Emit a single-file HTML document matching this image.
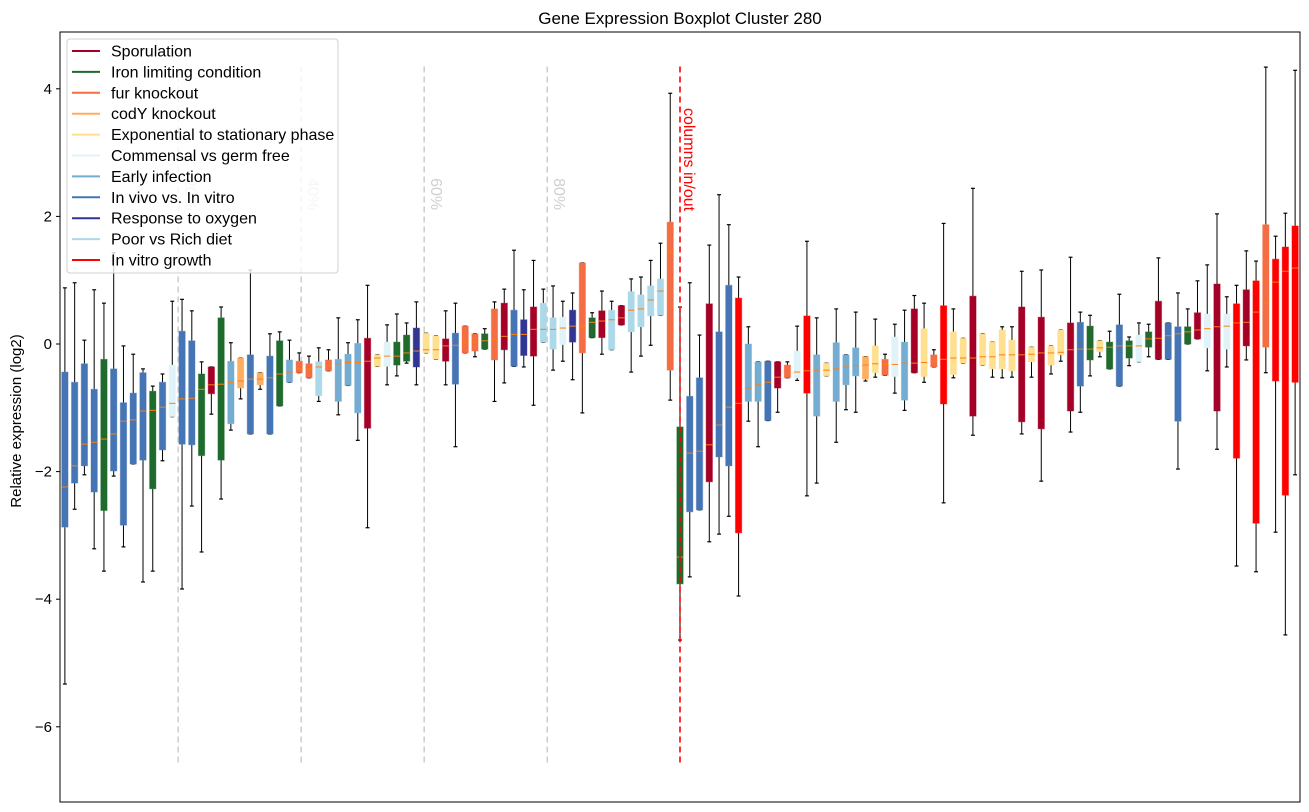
<!DOCTYPE html>
<html><head><meta charset="utf-8">
<style>
body{margin:0;background:#fff;}
svg{display:block;font-family:"Liberation Sans","DejaVu Sans",sans-serif;}
</style></head>
<body>
<svg id="chart" width="1309" height="812" viewBox="0 0 1309 812" xmlns="http://www.w3.org/2000/svg">
<rect x="0" y="0" width="1309" height="812" fill="#fff"/>
<text x="680" y="24" font-size="17" text-anchor="middle" fill="#000">Gene Expression Boxplot Cluster 280</text>
<text transform="translate(21,421) rotate(-90)" font-size="15" text-anchor="middle" fill="#000">Relative expression (log2)</text>
<g id="refs"></g>
<g id="boxes"></g>
<g id="overlay"></g>
<g id="axes"></g>
<g id="legend"></g>
</svg>
<script>
const groups = ['S','I','F','C','E','M','A','V','O','P','R'];
const groupNames = ['Sporulation','Iron limiting condition','fur knockout','codY knockout','Exponential to stationary phase','Commensal vs germ free','Early infection','In vivo vs. In vitro','Response to oxygen','Poor vs Rich diet','In vitro growth'];
const groupColors = ['#a50026','#1f6a2c','#f46d43','#fdae61','#fee090','#e0f3f8','#74add1','#4575b4','#313695','#abd9e9','#ff0000'];
const boxGroup = ("VVVVIVVVVIVMVVISIACVCVIAFFPFAAASEMIIOEESVFFIFSVOSPPMOFISPSPPPPF"+"IVVSVVRAAV"+"SFMRAEAAAC"+"EFMASEFREE"+"SEEEESESEE"+"SVIEIVIMIS"+"VVISMSMRSR"+"FRRR").split('');
const whiskerLow = [-5.33,-2.59,-2.05,-3.21,-3.56,-2.07,-3.18,-1.88,-3.73,-3.56,-1.83,-1.14,-3.84,-2.54,-3.26,-1.1,-2.43,-1.35,-0.86,-1.41,-0.71,-1.41,-0.97,-0.6,-0.45,-0.53,-0.9,-0.42,-1.11,-0.65,-1.51,-2.88,-0.35,-0.64,-0.5,-0.3,-0.64,-0.14,-0.24,-0.64,-1.61,-0.14,-0.2,-0.08,-0.9,-0.61,-0.35,-0.36,-0.96,0.03,-0.41,-0.27,-0.56,-1.08,0.1,-0.16,-0.09,0.3,-0.44,-0.19,-0.02,0.45,-0.88,
-4.64,-3.65,-2.6,-3.1,-2.98,-2.7,-3.95,-1.21,-1.61,-1.2,-1.07,-0.53,-0.57,-2.38,-2.18,-0.5,-1.54,-1.03,-1.07,-0.58,-0.52,-0.49,-0.77,-1.04,-0.45,-0.6,-0.36,-2.49,-0.53,-0.3,-1.43,-0.33,-0.52,-0.53,-0.52,-1.41,-0.52,-2.15,-0.47,-0.27,-1.38,-1.07,-0.5,-0.2,-0.39,-0.66,-0.34,-0.28,-0.2,-0.24,-0.24,-1.96,0.0,0.08,-0.42,-1.65,-0.36,-3.48,-0.25,-3.57,-0.45,-2.95,-4.56,-2.05];
const q1 = [-2.87,-2.18,-1.91,-2.32,-2.61,-1.99,-2.84,-1.88,-1.82,-2.27,-1.66,-1.14,-1.57,-1.58,-1.75,-0.78,-1.82,-1.25,-0.69,-1.41,-0.64,-1.41,-0.97,-0.6,-0.45,-0.53,-0.81,-0.42,-0.9,-0.65,-1.08,-1.32,-0.35,-0.35,-0.33,-0.27,-0.36,-0.14,-0.24,-0.27,-0.63,-0.14,-0.11,-0.08,-0.25,-0.09,-0.35,-0.18,-0.19,0.03,-0.08,-0.01,0.03,-0.14,0.1,0.1,-0.09,0.3,0.19,0.27,0.44,0.45,-0.41,
-3.76,-2.63,-2.6,-2.16,-1.77,-1.91,-2.96,-0.9,-0.9,-1.2,-0.69,-0.53,-0.53,-0.77,-1.13,-0.5,-0.9,-0.64,-0.5,-0.55,-0.45,-0.49,-0.51,-0.88,-0.45,-0.51,-0.36,-0.94,-0.48,-0.3,-1.13,-0.33,-0.39,-0.39,-0.42,-1.22,-0.28,-1.33,-0.33,-0.17,-1.05,-0.66,-0.25,-0.12,-0.39,-0.66,-0.22,-0.28,-0.05,-0.24,-0.24,-1.21,0.0,0.08,-0.06,-1.05,-0.08,-1.79,-0.03,-2.81,-0.05,-0.58,-2.37,-0.6];
const medians = [-2.24,-1.91,-1.57,-1.54,-1.49,-1.41,-1.21,-1.19,-1.05,-1.04,-0.99,-0.93,-0.86,-0.85,-0.71,-0.64,-0.63,-0.6,-0.58,-0.55,-0.55,-0.53,-0.47,-0.44,-0.39,-0.39,-0.36,-0.34,-0.31,-0.29,-0.29,-0.27,-0.22,-0.19,-0.19,-0.14,-0.11,-0.09,-0.09,-0.03,-0.02,0.02,0.03,0.05,0.06,0.12,0.15,0.15,0.23,0.23,0.23,0.25,0.28,0.28,0.34,0.36,0.38,0.41,0.53,0.55,0.69,0.83,1.44,
-3.34,-1.71,-1.68,-1.58,-1.27,-0.99,-0.93,-0.69,-0.64,-0.6,-0.52,-0.46,-0.44,-0.42,-0.41,-0.41,-0.39,-0.36,-0.34,-0.33,-0.31,-0.32,-0.32,-0.3,-0.3,-0.29,-0.27,-0.24,-0.22,-0.22,-0.22,-0.2,-0.2,-0.17,-0.17,-0.17,-0.16,-0.14,-0.14,-0.13,-0.09,-0.08,-0.08,-0.06,-0.05,-0.03,-0.03,-0.03,0.08,0.09,0.13,0.16,0.19,0.22,0.24,0.27,0.28,0.33,0.34,0.5,0.64,0.97,1.14,1.19];
const q3 = [-0.44,-0.6,-0.31,-0.71,-0.24,-0.39,-0.92,-0.77,-0.45,-0.74,-0.6,-0.33,0.2,0.05,-0.47,-0.36,0.41,-0.27,-0.22,-0.17,-0.45,-0.19,0.05,-0.25,-0.27,-0.31,-0.28,-0.25,-0.24,-0.16,0.01,0.09,-0.17,0.03,0.03,0.14,0.25,0.17,0.13,0.08,0.17,0.28,0.16,0.16,0.55,0.64,0.53,0.38,0.58,0.64,0.41,0.42,0.53,1.27,0.41,0.52,0.53,0.6,0.82,0.77,0.91,1.02,1.91,
-1.3,-0.82,-0.53,0.63,0.19,0.92,0.72,0.0,-0.28,-0.27,-0.28,-0.33,-0.11,0.44,-0.17,-0.3,0.02,-0.17,-0.06,-0.2,-0.03,-0.24,0.11,0.03,0.55,0.24,-0.17,0.6,0.19,0.09,0.75,0.16,0.03,0.22,0.06,0.58,-0.05,0.42,-0.03,0.22,0.33,0.34,0.28,0.05,0.03,0.3,0.05,0.14,0.19,0.67,0.33,0.27,0.27,0.49,0.47,0.94,0.47,0.63,0.85,0.99,1.87,1.33,1.52,1.85];
const whiskerHigh = [0.88,0.96,0.06,0.85,0.64,1.43,-0.03,-0.16,-0.39,-0.66,-0.47,0.67,0.7,0.52,-0.28,-0.36,0.58,0.02,-0.22,1.16,-0.45,0.16,0.19,0.06,-0.14,-0.19,-0.06,-0.09,0.41,0.02,0.38,0.92,-0.17,0.3,0.47,0.33,0.66,0.17,0.13,0.52,0.64,0.28,0.16,0.24,0.66,0.86,1.47,0.85,1.31,0.86,0.91,0.67,0.8,1.27,0.49,0.83,0.67,0.6,1.02,1.05,1.31,1.58,3.93,
0.58,0.96,0.14,1.55,2.34,1.87,1.05,0.27,-0.28,-0.27,-0.28,-0.28,0.28,1.61,0.41,-0.3,0.55,-0.17,0.5,-0.2,0.39,-0.16,0.31,0.53,0.76,0.64,-0.09,1.89,0.55,0.09,2.44,0.16,0.03,0.27,0.27,1.14,-0.05,1.16,-0.03,0.22,1.36,0.5,0.45,0.05,0.2,0.78,0.11,0.33,0.31,1.35,0.33,0.8,0.55,0.99,1.24,2.04,0.74,0.92,1.46,1.3,4.34,1.69,2.05,4.29];
const yTicks = [4,2,0,-2,-4,-6];
const refLines = [12.6,25.2,37.8,50.4];
const refLabels = ['20%','40%','60%','80%'];
const splitLine = 64;

const NS='http://www.w3.org/2000/svg';
const L=60,R=1300,T=32,B=802;
const N=medians.length;
const xScale=d=>L+(d-0.5)*(R-L)/N;
const yScale=v=>344-63.8*v;
function mk(tag,attrs,parent){const e=document.createElementNS(NS,tag);for(const k in attrs)e.setAttribute(k,attrs[k]);parent.appendChild(e);return e;}
const gRefs=document.getElementById('refs'),gBoxes=document.getElementById('boxes'),gOv=document.getElementById('overlay'),gAx=document.getElementById('axes'),gLeg=document.getElementById('legend');
const unit=(R-L)/N;
const top_=yScale(4.35),bot_=yScale(-6.6);
refLines.forEach((d,i)=>{
  const x=xScale(d);
  const ln=mk('line',{x1:x,x2:x,y1:top_,y2:bot_,stroke:'#cccccc','stroke-width':1.5,'stroke-dasharray':'6,4'},gRefs);
  
  
  const t=mk('text',{transform:`translate(${x+7},${yScale(2.6)}) rotate(90)`,'font-size':16,fill:'#d0d0d0'},gRefs);
  t.textContent=refLabels[i];
  
  
});
for(let i=0;i<N;i++){
  const x=xScale(i+1),col=groupColors[groups.indexOf(boxGroup[i])]||'#4575b4';
  const g=mk('g',{},gBoxes);
  
  
  const hw=0.325*unit,cw=0.2*unit;
  mk('line',{x1:x,x2:x,y1:yScale(whiskerHigh[i]),y2:yScale(q3[i]),stroke:'#000','stroke-width':1},g);
  mk('line',{x1:x,x2:x,y1:yScale(q1[i]),y2:yScale(whiskerLow[i]),stroke:'#000','stroke-width':1},g);
  mk('line',{x1:x-cw,x2:x+cw,y1:yScale(whiskerHigh[i]),y2:yScale(whiskerHigh[i]),stroke:'#000','stroke-width':1.2},g);
  mk('line',{x1:x-cw,x2:x+cw,y1:yScale(whiskerLow[i]),y2:yScale(whiskerLow[i]),stroke:'#000','stroke-width':1.2},g);
  const y1=yScale(q3[i]),y2=yScale(q1[i]);
  mk('rect',{x:x-hw,y:y1,width:2*hw,height:Math.max(1,y2-y1),fill:col,stroke:col,'stroke-opacity':0.4,'stroke-width':1},g);
  mk('line',{x1:x-hw,x2:x+hw,y1:yScale(medians[i]),y2:yScale(medians[i]),stroke:'#ff7f0e','stroke-width':1},g);
}
const sx=xScale(splitLine);
const sl=mk('line',{x1:sx,x2:sx,y1:top_,y2:bot_,stroke:'#ff0000','stroke-width':1.6,'stroke-dasharray':'6,4'},gOv);


const st=mk('text',{transform:`translate(${sx+4},${yScale(3.7)}) rotate(90)`,'font-size':16,fill:'#ff0000'},gOv);
st.textContent='columns in/out';


const frame=mk('rect',{x:L,y:T,width:R-L,height:B-T,fill:'none',stroke:'#000','stroke-width':1},gAx);


yTicks.forEach(v=>{
  const y=yScale(v);
  mk('line',{x1:L-4,x2:L,y1:y,y2:y,stroke:'#000','stroke-width':1},gAx);
  const t=mk('text',{x:L-8,y:y+5,'font-size':15,'text-anchor':'end',fill:'#000'},gAx);
  t.textContent=v<0?'\u2212'+Math.abs(v):String(v);
  
  
});
const lb=mk('rect',{x:67,y:39,width:271,height:234,rx:3,fill:'#fff','fill-opacity':0.8,stroke:'#d0d0d0','stroke-width':1},gLeg);


groupNames.forEach((n,i)=>{
  const y=51+i*20.9;
  const g=mk('g',{},gLeg);
  
  
  mk('line',{x1:72,x2:100,y1:y,y2:y,stroke:groupColors[i],'stroke-width':2},g);
  const t=mk('text',{x:111,y:y+5.5,'font-size':16,fill:'#000'},g);
  t.textContent=n;
});
</script>
</body></html>
